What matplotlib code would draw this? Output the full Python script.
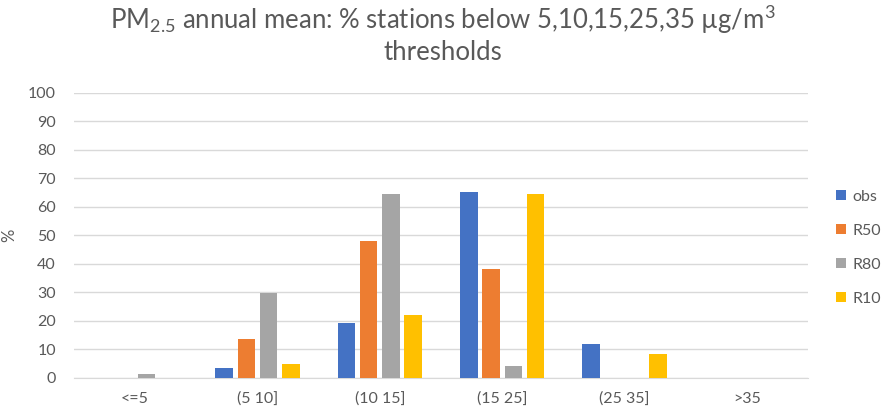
import numpy as np
import matplotlib
matplotlib.use("Agg")
import matplotlib.pyplot as plt

plt.rcParams['font.family'] = ['Lato', 'DejaVu Sans']
plt.rcParams['mathtext.fontset'] = 'custom'
plt.rcParams['mathtext.rm'] = 'Lato'
plt.rcParams['mathtext.it'] = 'Lato'

categories = ["<=5", "(5 10]", "(10 15]", "(15 25]", "(25 35]", ">35"]
obs = [0, 3.4, 19.1, 65.2, 11.9, 0]
r50 = [0, 13.6, 47.9, 38.1, 0, 0]
r80 = [1.2, 29.8, 64.4, 4.3, 0, 0]
r10 = [0, 4.7, 22.1, 64.4, 8.4, 0]
series = [("obs", obs, "#4472C4"), ("R50", r50, "#ED7D31"),
          ("R80", r80, "#A5A5A5"), ("R10", r10, "#FFC000")]

txt = "#595959"

fig = plt.figure(figsize=(8.86, 4.13), dpi=100)
ax = fig.add_axes([0.0835, 0.085, 0.8285, 0.691])

x = np.arange(len(categories))
w = 0.143
step = 0.182
for i, (name, vals, col) in enumerate(series):
    ax.bar(x + (i - 1.5) * step, vals, width=w, color=col, label=name, zorder=3)

ax.set_xlim(-0.5, len(categories) - 0.5)
ax.set_ylim(0, 100)
ax.set_yticks(np.arange(0, 101, 10))
ax.set_xticks(x)
ax.set_xticklabels(categories)
ax.grid(axis='y', color="#D9D9D9", linewidth=1, zorder=0)
for s in ax.spines.values():
    s.set_visible(False)
ax.spines['bottom'].set_visible(True)
ax.spines['bottom'].set_color("#D9D9D9")
ax.tick_params(length=0, labelsize=11.5, colors=txt)
ax.tick_params(axis='x', pad=10)
ax.tick_params(axis='y', pad=13)
ax.set_ylabel("%", fontsize=12, color=txt, labelpad=8)
ax.yaxis.set_label_coords(-0.077, 0.5)

# title, two lines like the original
fig.suptitle("PM$_{2.5}$ annual mean: % stations below 5,10,15,25,35 µg/m$^3$\nthresholds",
             fontsize=18.5, color=txt, y=0.993, linespacing=1.2)

leg = fig.legend(loc='center left', bbox_to_anchor=(0.944, 0.40), frameon=False,
                 fontsize=11.5, handlelength=0.6, handleheight=0.6, labelspacing=1.25,
                 handletextpad=0.4, borderaxespad=0, borderpad=0)
for t in leg.get_texts():
    t.set_color(txt)

fig.savefig("out.png", dpi=100)
